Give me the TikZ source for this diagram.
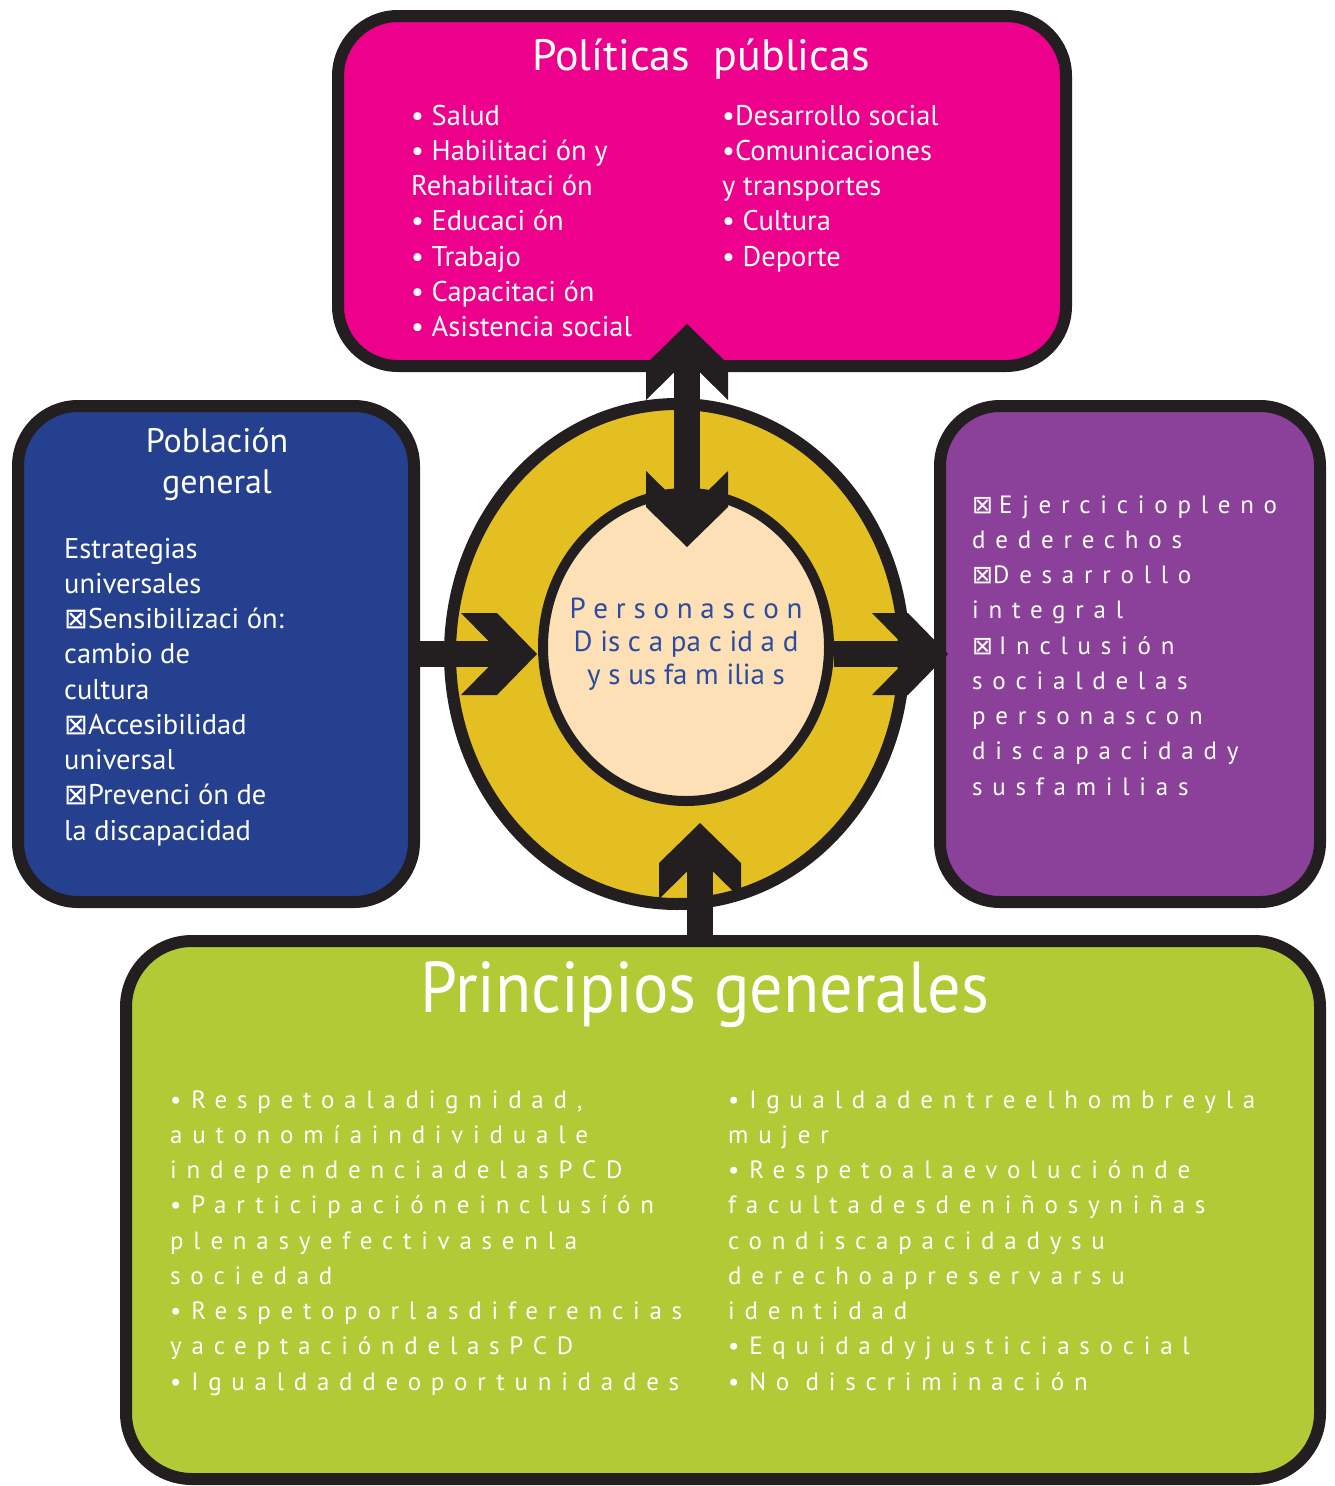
\documentclass[tikz,border=0pt]{standalone}
\usepackage{fontspec}
\setmainfont{PT Sans}
\newfontfamily\espaciada{PT Sans}[LetterSpace=39]
\newfontfamily\estrecha{PT Sans}[FakeStretch=0.92]
\newfontfamily\simbolos{DejaVu Sans}
\usetikzlibrary{positioning, shapes.geometric}

\definecolor{rosa}{HTML}{EC008C}
\definecolor{azul}{HTML}{25408F}
\definecolor{morado}{HTML}{8B4199}
\definecolor{verde}{HTML}{B2CA35}
\definecolor{amarillo}{HTML}{E3BF22}
\definecolor{crema}{HTML}{FDE0B5}
\definecolor{negro}{HTML}{231F20}
\definecolor{tinta}{HTML}{2B4C9F}

\newcommand{\marca}{{\simbolos\symbol{"22A0}}}

\tikzset{
  borde/.style={draw=negro, line width=12pt, rounded corners=60pt},
  lista/.style={text=white, inner sep=0pt, align=left, anchor=base west,
    font=\fontsize{28.5}{35.25}\selectfont},
  separada/.style={text=white, inner sep=0pt, align=left, anchor=base west,
    font=\espaciada\fontsize{25}{35.25}\selectfont},
  eje/.style={draw=negro, line width=26pt},
  pics/punta/.style={code={
    \fill[negro] (0,0) -- (-40,-41) -- (-76,-41) -- (-48,-12.5)
      -- (-48,12.5) -- (-76,41) -- (-40,41) -- cycle;}}
}

\begin{document}
\begin{tikzpicture}[x=1pt, y=-1pt]
    \useasboundingbox (0,0) rectangle (1334,1486);

    % centro
    \node[ellipse, draw=negro, line width=12pt, fill=amarillo,
        minimum width=454pt, minimum height=500pt] (anillo) at (677,654) {};
    \node[ellipse, draw=negro, line width=10pt, fill=crema,
        minimum width=286pt, minimum height=308pt] (personas) at (686,647) {};
    \node[text=tinta, align=center, inner sep=0pt,
        font=\fontsize{29}{33}\selectfont] (textoPersonas) at ([yshift=3pt]personas.center)
        {P e r s o n a s c o n\\D is c a pa c id a d\\y s us fa m ilia s};

    % cajas
    \node[borde, fill=rosa, minimum width=728pt, minimum height=350pt] (politicas) at (702,191) {};
    \node[borde, fill=azul, minimum width=396pt, minimum height=496pt] (poblacion) at (216,654) {};
    \node[borde, fill=morado, minimum width=380pt, minimum height=496pt] (derechos) at (1130,654) {};
    \node[borde, fill=verde, minimum width=1194pt, minimum height=538pt,
        rounded corners=66pt] (principios) at (723,1210) {};

    % textos (base = ultima linea)
    \node[text=white, anchor=base, font=\fontsize{44}{50}\selectfont] (titPoliticas) at (701,70) {Políticas\ \ públicas};
    \node[lista] (salud) at (411,336.5) {• Salud\\• Habilitaci ón y\\Rehabilitaci ón\\• Educaci ón\\• Trabajo\\• Capacitaci ón\\• Asistencia social};
    \node[lista] (desarrollo) at (722,266) {•Desarrollo social\\•Comunicaciones\\y transportes\\• Cultura\\• Deporte};

    \node[text=white, anchor=base, align=center, inner sep=0pt,
        font=\fontsize{34}{41}\selectfont] (titPoblacion) at (217,493) {Población\\general};
    \node[lista] (estrategias) at (64,840) {Estrategias\\universales\\\marca Sensibilizaci ón:\\cambio de\\cultura\\\marca Accesibilidad\\universal\\\marca Prevenci ón de\\la discapacidad};

    \node[separada] (ejercicio) at (972,795) {\marca\hspace{6pt}Ejerciciopleno\\dederechos\\\marca Desarrollo\\integral\\\marca\hspace{6pt}Inclusión\\socialdelas\\personascon\\discapacidady\\susfamilias};

    \node[text=white, anchor=base, font=\estrecha\fontsize{72}{80}\selectfont] (titPrincipios) at (705,1012) {Principios generales};
    \node[separada] (respeto) at (170,1390) {•Respetoaladignidad,\\autonomíaindividuale\\independenciadelasPCD\\•Participacióneinclusíón\\plenasyefectivasenla\\sociedad\\•Respetoporlasdiferencias\\yaceptacióndelasPCD\\•Igualdaddeoportunidades};
    \node[separada] (igualdad) at (728,1390) {•Igualdadentreelhombreyla\\mujer\\•Respetoalaevolucióndе\\facultadesdeniñosyniñas\\condiscapacidadysu\\derechoapreservarsu\\identidad\\•Equidadyjusticiasocial\\•No discriminación};

    % flechas
    \coordinate (puntaArriba) at (687,324);
    \coordinate (puntaAbajo) at (687,547);
    \coordinate (puntaIzq) at (537,654);
    \coordinate (puntaDer) at (948,654);
    \coordinate (puntaInf) at (700,823);
    \draw[eje, shorten <=20pt, shorten >=20pt] (puntaAbajo) -- (puntaArriba);
    \draw[eje, shorten >=20pt] (poblacion.east) -- (puntaIzq);
    \draw[eje, shorten >=20pt] (personas.east |- puntaDer) -- (puntaDer);
    \draw[eje, shorten >=20pt] (principios.north -| puntaInf) -- (puntaInf);
    \pic[rotate=90] at (puntaArriba) {punta};
    \pic[rotate=-90] at (puntaAbajo) {punta};
    \pic at (puntaIzq) {punta};
    \pic at (puntaDer) {punta};
    \pic[rotate=90] at (puntaInf) {punta};
\end{tikzpicture}
\end{document}
